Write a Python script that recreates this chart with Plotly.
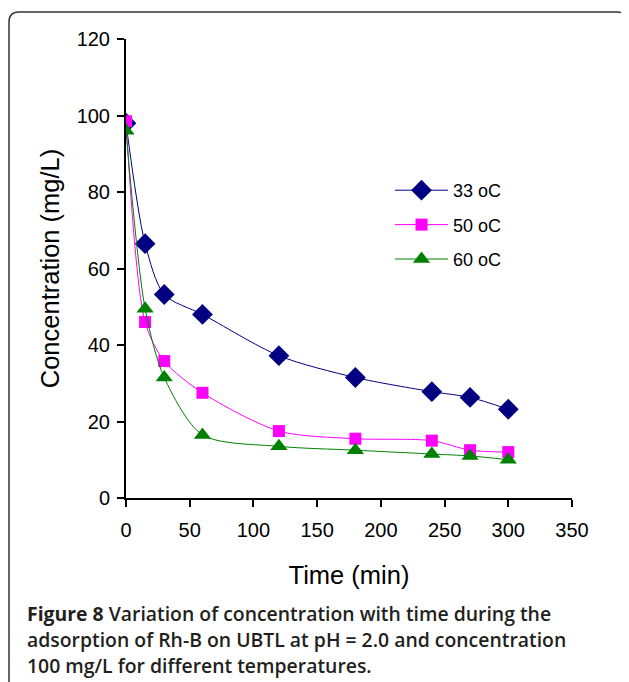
import plotly.graph_objects as go

time_min = [0, 15, 30, 60, 120, 180, 240, 270, 300]
conc_33 = [98.0, 66.5, 53.2, 48.0, 37.2, 31.5, 27.8, 26.3, 23.2]
conc_50 = [98.5, 46.0, 35.8, 27.5, 17.5, 15.5, 15.0, 12.5, 12.0]
conc_60 = [96.0, 49.5, 31.5, 16.5, 13.5, 12.5, 11.5, 11.0, 10.0]
series_names = ["33 oC", "50 oC", "60 oC"]
x_ticks = [0, 50, 100, 150, 200, 250, 300, 350]
y_ticks = [0, 20, 40, 60, 80, 100, 120]

OFF = 8  # page body margin
W, H = 629 - OFF, 682 - OFF
# plot area in screen pixels
L, R, T, B = 126, 572, 39, 498


def px(x):
    return (x - L) / (R - L)


def py(y):
    return (B - y) / (B - T)


fig = go.Figure()
styles = [
    dict(color="#000080", symbol="diamond", size=16),
    dict(color="#FF00FF", symbol="square", size=12),
    dict(color="#008000", symbol="triangle-up", size=15),
]
for name, ys, st in zip(series_names, [conc_33, conc_50, conc_60], styles):
    fig.add_trace(go.Scatter(
        x=time_min, y=ys, name=name, legendgroup=name, mode="lines+markers",
        line=dict(color=st["color"], width=1, shape="spline", smoothing=0.8),
        marker=dict(symbol=st["symbol"], size=st["size"], color=st["color"],
                    line=dict(width=0)),
    ))

axis_font = dict(family="Liberation Sans, Arial, sans-serif", size=20, color="#000")
fig.update_layout(
    width=W, height=H,
    margin=dict(l=L - OFF, r=W - (R - OFF), t=T - OFF, b=H - (B - OFF)),
    paper_bgcolor="white", plot_bgcolor="white",
    font=axis_font,
    showlegend=True,
    legend=dict(x=px(390), y=py(172), xanchor="left", yanchor="top",
                bgcolor="rgba(0,0,0,0)", font=dict(size=18),
                tracegroupgap=8, itemsizing="trace", itemwidth=53),
    xaxis=dict(range=[0, 350], tickvals=x_ticks, ticks="outside", ticklen=7,
               tickwidth=1.5, tickcolor="#000", showline=True, linecolor="#000",
               linewidth=2, showgrid=False, zeroline=False, ticklabelstandoff=6,
               title=dict(text="Time (min)", font=dict(size=25.5), standoff=26)),
    yaxis=dict(range=[0, 120], tickvals=y_ticks, ticks="outside", ticklen=7,
               tickwidth=1.5, tickcolor="#000", showline=True, linecolor="#000",
               linewidth=2, showgrid=False, zeroline=False, ticklabelstandoff=3,
               title=dict(text="Concentration (mg/L)", font=dict(size=25.5), standoff=10)),
)

# rounded frame around the figure
x0, x1, y0, y1, r = 9, 627, 12, 720, 10
path = (f"M {px(x0)},{py(y1)} L {px(x0)},{py(y0 + r)} "
        f"Q {px(x0)},{py(y0)} {px(x0 + r)},{py(y0)} "
        f"L {px(x1 - r)},{py(y0)} Q {px(x1)},{py(y0)} {px(x1)},{py(y0 + r)} "
        f"L {px(x1)},{py(y1)}")
fig.add_shape(type="path", path=path, xref="paper", yref="paper",
              line=dict(color="#333", width=1.5))

caption = [
    "<b>Figure 8</b> Variation of concentration with time during the",
    "adsorption of Rh-B on UBTL at pH = 2.0 and concentration",
    "100 mg/L for different temperatures.",
]
for i, line in enumerate(caption):
    fig.add_annotation(
        text=line, xref="paper", yref="paper", x=px(25), y=py(613 + 26 * i),
        xanchor="left", yanchor="middle", showarrow=False,
        font=dict(family="Open Sans, sans-serif", size=19.4, color="#231f20", weight=600),
    )

fig.write_html("out.html")
